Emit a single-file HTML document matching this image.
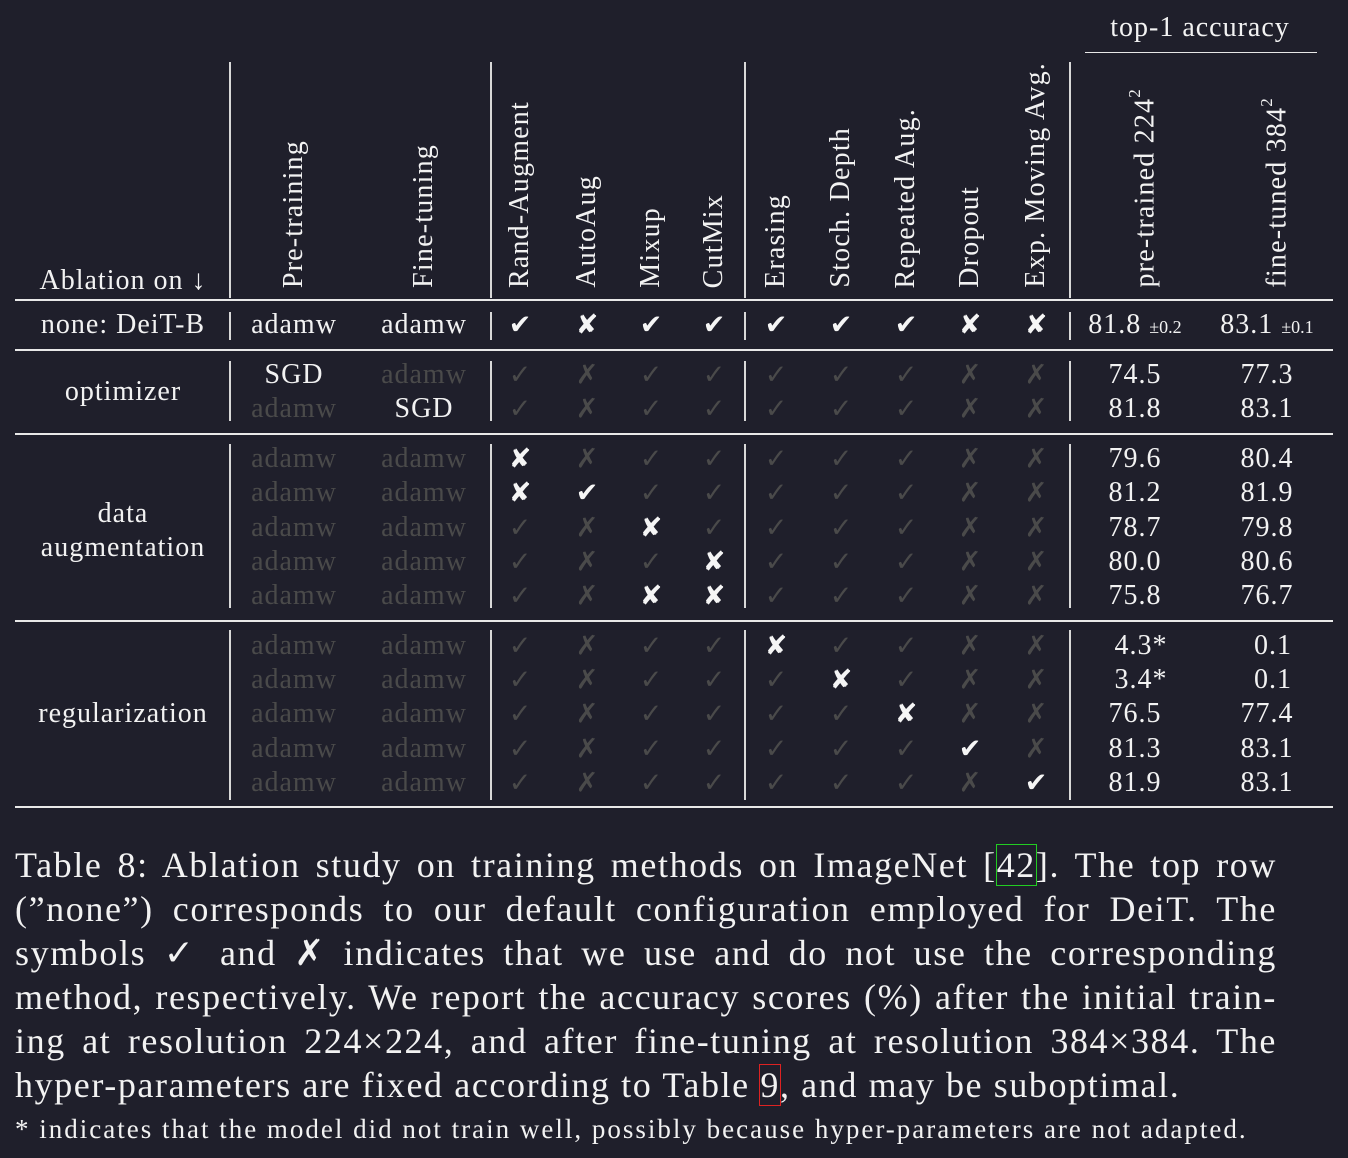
<!DOCTYPE html>
<html><head><meta charset="utf-8"><style>
body{margin:0;background:#1f1f2b;}
#p{position:relative;width:1348px;height:1158px;background:#1f1f2b;overflow:hidden;font-family:"Liberation Serif","DejaVu Serif",serif;color:#f2f2f2;}
.t{position:absolute;transform:translate(-50%,-50%);white-space:nowrap;font-size:28px;line-height:1;letter-spacing:1px;}
.s{position:absolute;transform:translate(-50%,-50%);font-family:"DejaVu Sans",sans-serif;font-size:27px;line-height:1;color:#f5f5f5;}
.g{color:#4a4a4a;}
.h{position:absolute;writing-mode:vertical-rl;transform:rotate(180deg);font-size:28px;line-height:30px;white-space:nowrap;letter-spacing:1.2px;}
.hl{position:absolute;height:2px;background:#e8e8e8;}
.vl{position:absolute;width:2px;background:#d8d8d8;}
.cap{position:absolute;left:15px;width:1262px;font-size:36px;line-height:44px;text-align:justify;text-align-last:justify;white-space:nowrap;letter-spacing:1.6px;}
small{font-size:18px;letter-spacing:0;}
</style></head><body><div id="p">
<div class="t" style="left:1200px;top:28px">top-1 accuracy</div>
<div class="hl" style="left:1085px;top:52px;width:232px;height:1px"></div>
<div class="t" style="left:123px;top:281px">Ablation on ↓</div>
<div class="h" style="left:279px;bottom:870px">Pre-training</div>
<div class="h" style="left:409px;bottom:870px">Fine-tuning</div>
<div class="h" style="left:505px;bottom:870px">Rand-Augment</div>
<div class="h" style="left:572px;bottom:870px">AutoAug</div>
<div class="h" style="left:636px;bottom:870px">Mixup</div>
<div class="h" style="left:699px;bottom:870px">CutMix</div>
<div class="h" style="left:761px;bottom:870px">Erasing</div>
<div class="h" style="left:826px;bottom:870px">Stoch. Depth</div>
<div class="h" style="left:891px;bottom:870px">Repeated Aug.</div>
<div class="h" style="left:955px;bottom:870px">Dropout</div>
<div class="h" style="left:1021px;bottom:870px">Exp. Moving Avg.</div>
<div class="h" style="left:1120px;bottom:870px">pre-trained 224<sup style="font-size:17px">2</sup></div>
<div class="h" style="left:1252px;bottom:870px">fine-tuned 384<sup style="font-size:17px">2</sup></div>

<div class="hl" style="left:15px;top:299px;width:1318px"></div>
<div class="hl" style="left:15px;top:349px;width:1318px"></div>
<div class="hl" style="left:15px;top:433px;width:1318px"></div>
<div class="hl" style="left:15px;top:620px;width:1318px"></div>
<div class="hl" style="left:15px;top:806px;width:1318px"></div>

<div class="vl" style="left:229px;top:62px;height:236px"></div>
<div class="vl" style="left:490px;top:62px;height:236px"></div>
<div class="vl" style="left:744px;top:62px;height:236px"></div>
<div class="vl" style="left:1069px;top:62px;height:236px"></div>
<div class="vl" style="left:229px;top:312px;height:28px"></div>
<div class="vl" style="left:490px;top:312px;height:28px"></div>
<div class="vl" style="left:744px;top:312px;height:28px"></div>
<div class="vl" style="left:1069px;top:312px;height:28px"></div>
<div class="vl" style="left:229px;top:361px;height:60px"></div>
<div class="vl" style="left:490px;top:361px;height:60px"></div>
<div class="vl" style="left:744px;top:361px;height:60px"></div>
<div class="vl" style="left:1069px;top:361px;height:60px"></div>
<div class="vl" style="left:229px;top:444px;height:164px"></div>
<div class="vl" style="left:490px;top:444px;height:164px"></div>
<div class="vl" style="left:744px;top:444px;height:164px"></div>
<div class="vl" style="left:1069px;top:444px;height:164px"></div>
<div class="vl" style="left:229px;top:630px;height:170px"></div>
<div class="vl" style="left:490px;top:630px;height:170px"></div>
<div class="vl" style="left:744px;top:630px;height:170px"></div>
<div class="vl" style="left:1069px;top:630px;height:170px"></div>

<!-- none row -->
<div class="t" style="left:123px;top:325px">none: DeiT-B</div>
<div class="t" style="left:294px;top:325px">adamw</div><div class="t" style="left:424px;top:325px">adamw</div>
<div class="s" style="left:520px;top:325px">✔</div><div class="s" style="left:587px;top:325px">✘</div><div class="s" style="left:651px;top:325px">✔</div><div class="s" style="left:714px;top:325px">✔</div><div class="s" style="left:776px;top:325px">✔</div><div class="s" style="left:841px;top:325px">✔</div><div class="s" style="left:906px;top:325px">✔</div><div class="s" style="left:970px;top:325px">✘</div><div class="s" style="left:1036px;top:325px">✘</div>
<div class="t" style="left:1135px;top:325px">81.8 <small>±0.2</small></div><div class="t" style="left:1267px;top:325px">83.1 <small>±0.1</small></div>

<!-- optimizer -->
<div class="t" style="left:123px;top:392px">optimizer</div>
<div class="t" style="left:294px;top:375px">SGD</div><div class="t g" style="left:424px;top:375px">adamw</div>
<div class="s g" style="left:520px;top:375px">✓</div><div class="s g" style="left:587px;top:375px">✗</div><div class="s g" style="left:651px;top:375px">✓</div><div class="s g" style="left:714px;top:375px">✓</div><div class="s g" style="left:776px;top:375px">✓</div><div class="s g" style="left:841px;top:375px">✓</div><div class="s g" style="left:906px;top:375px">✓</div><div class="s g" style="left:970px;top:375px">✗</div><div class="s g" style="left:1036px;top:375px">✗</div>
<div class="t" style="left:1135px;top:375px">74.5</div><div class="t" style="left:1267px;top:375px">77.3</div>
<div class="t g" style="left:294px;top:409px">adamw</div><div class="t" style="left:424px;top:409px">SGD</div>
<div class="s g" style="left:520px;top:409px">✓</div><div class="s g" style="left:587px;top:409px">✗</div><div class="s g" style="left:651px;top:409px">✓</div><div class="s g" style="left:714px;top:409px">✓</div><div class="s g" style="left:776px;top:409px">✓</div><div class="s g" style="left:841px;top:409px">✓</div><div class="s g" style="left:906px;top:409px">✓</div><div class="s g" style="left:970px;top:409px">✗</div><div class="s g" style="left:1036px;top:409px">✗</div>
<div class="t" style="left:1135px;top:409px">81.8</div><div class="t" style="left:1267px;top:409px">83.1</div>

<!-- data augmentation -->
<div class="t" style="left:123px;top:514px">data</div>
<div class="t" style="left:123px;top:548px">augmentation</div>
<div class="t g" style="left:294px;top:459px">adamw</div><div class="t g" style="left:424px;top:459px">adamw</div>
<div class="s" style="left:520px;top:459px">✘</div><div class="s g" style="left:587px;top:459px">✗</div><div class="s g" style="left:651px;top:459px">✓</div><div class="s g" style="left:714px;top:459px">✓</div><div class="s g" style="left:776px;top:459px">✓</div><div class="s g" style="left:841px;top:459px">✓</div><div class="s g" style="left:906px;top:459px">✓</div><div class="s g" style="left:970px;top:459px">✗</div><div class="s g" style="left:1036px;top:459px">✗</div>
<div class="t" style="left:1135px;top:459px">79.6</div><div class="t" style="left:1267px;top:459px">80.4</div>
<div class="t g" style="left:294px;top:493px">adamw</div><div class="t g" style="left:424px;top:493px">adamw</div>
<div class="s" style="left:520px;top:493px">✘</div><div class="s" style="left:587px;top:493px">✔</div><div class="s g" style="left:651px;top:493px">✓</div><div class="s g" style="left:714px;top:493px">✓</div><div class="s g" style="left:776px;top:493px">✓</div><div class="s g" style="left:841px;top:493px">✓</div><div class="s g" style="left:906px;top:493px">✓</div><div class="s g" style="left:970px;top:493px">✗</div><div class="s g" style="left:1036px;top:493px">✗</div>
<div class="t" style="left:1135px;top:493px">81.2</div><div class="t" style="left:1267px;top:493px">81.9</div>
<div class="t g" style="left:294px;top:528px">adamw</div><div class="t g" style="left:424px;top:528px">adamw</div>
<div class="s g" style="left:520px;top:528px">✓</div><div class="s g" style="left:587px;top:528px">✗</div><div class="s" style="left:651px;top:528px">✘</div><div class="s g" style="left:714px;top:528px">✓</div><div class="s g" style="left:776px;top:528px">✓</div><div class="s g" style="left:841px;top:528px">✓</div><div class="s g" style="left:906px;top:528px">✓</div><div class="s g" style="left:970px;top:528px">✗</div><div class="s g" style="left:1036px;top:528px">✗</div>
<div class="t" style="left:1135px;top:528px">78.7</div><div class="t" style="left:1267px;top:528px">79.8</div>
<div class="t g" style="left:294px;top:562px">adamw</div><div class="t g" style="left:424px;top:562px">adamw</div>
<div class="s g" style="left:520px;top:562px">✓</div><div class="s g" style="left:587px;top:562px">✗</div><div class="s g" style="left:651px;top:562px">✓</div><div class="s" style="left:714px;top:562px">✘</div><div class="s g" style="left:776px;top:562px">✓</div><div class="s g" style="left:841px;top:562px">✓</div><div class="s g" style="left:906px;top:562px">✓</div><div class="s g" style="left:970px;top:562px">✗</div><div class="s g" style="left:1036px;top:562px">✗</div>
<div class="t" style="left:1135px;top:562px">80.0</div><div class="t" style="left:1267px;top:562px">80.6</div>
<div class="t g" style="left:294px;top:596px">adamw</div><div class="t g" style="left:424px;top:596px">adamw</div>
<div class="s g" style="left:520px;top:596px">✓</div><div class="s g" style="left:587px;top:596px">✗</div><div class="s" style="left:651px;top:596px">✘</div><div class="s" style="left:714px;top:596px">✘</div><div class="s g" style="left:776px;top:596px">✓</div><div class="s g" style="left:841px;top:596px">✓</div><div class="s g" style="left:906px;top:596px">✓</div><div class="s g" style="left:970px;top:596px">✗</div><div class="s g" style="left:1036px;top:596px">✗</div>
<div class="t" style="left:1135px;top:596px">75.8</div><div class="t" style="left:1267px;top:596px">76.7</div>

<!-- regularization -->
<div class="t" style="left:123px;top:714px">regularization</div>
<div class="t g" style="left:294px;top:646px">adamw</div><div class="t g" style="left:424px;top:646px">adamw</div>
<div class="s g" style="left:520px;top:646px">✓</div><div class="s g" style="left:587px;top:646px">✗</div><div class="s g" style="left:651px;top:646px">✓</div><div class="s g" style="left:714px;top:646px">✓</div><div class="s" style="left:776px;top:646px">✘</div><div class="s g" style="left:841px;top:646px">✓</div><div class="s g" style="left:906px;top:646px">✓</div><div class="s g" style="left:970px;top:646px">✗</div><div class="s g" style="left:1036px;top:646px">✗</div>
<div class="t" style="left:1141px;top:646px">4.3*</div><div class="t" style="left:1273px;top:646px">0.1</div>
<div class="t g" style="left:294px;top:680px">adamw</div><div class="t g" style="left:424px;top:680px">adamw</div>
<div class="s g" style="left:520px;top:680px">✓</div><div class="s g" style="left:587px;top:680px">✗</div><div class="s g" style="left:651px;top:680px">✓</div><div class="s g" style="left:714px;top:680px">✓</div><div class="s g" style="left:776px;top:680px">✓</div><div class="s" style="left:841px;top:680px">✘</div><div class="s g" style="left:906px;top:680px">✓</div><div class="s g" style="left:970px;top:680px">✗</div><div class="s g" style="left:1036px;top:680px">✗</div>
<div class="t" style="left:1141px;top:680px">3.4*</div><div class="t" style="left:1273px;top:680px">0.1</div>
<div class="t g" style="left:294px;top:714px">adamw</div><div class="t g" style="left:424px;top:714px">adamw</div>
<div class="s g" style="left:520px;top:714px">✓</div><div class="s g" style="left:587px;top:714px">✗</div><div class="s g" style="left:651px;top:714px">✓</div><div class="s g" style="left:714px;top:714px">✓</div><div class="s g" style="left:776px;top:714px">✓</div><div class="s g" style="left:841px;top:714px">✓</div><div class="s" style="left:906px;top:714px">✘</div><div class="s g" style="left:970px;top:714px">✗</div><div class="s g" style="left:1036px;top:714px">✗</div>
<div class="t" style="left:1135px;top:714px">76.5</div><div class="t" style="left:1267px;top:714px">77.4</div>
<div class="t g" style="left:294px;top:749px">adamw</div><div class="t g" style="left:424px;top:749px">adamw</div>
<div class="s g" style="left:520px;top:749px">✓</div><div class="s g" style="left:587px;top:749px">✗</div><div class="s g" style="left:651px;top:749px">✓</div><div class="s g" style="left:714px;top:749px">✓</div><div class="s g" style="left:776px;top:749px">✓</div><div class="s g" style="left:841px;top:749px">✓</div><div class="s g" style="left:906px;top:749px">✓</div><div class="s" style="left:970px;top:749px">✔</div><div class="s g" style="left:1036px;top:749px">✗</div>
<div class="t" style="left:1135px;top:749px">81.3</div><div class="t" style="left:1267px;top:749px">83.1</div>
<div class="t g" style="left:294px;top:783px">adamw</div><div class="t g" style="left:424px;top:783px">adamw</div>
<div class="s g" style="left:520px;top:783px">✓</div><div class="s g" style="left:587px;top:783px">✗</div><div class="s g" style="left:651px;top:783px">✓</div><div class="s g" style="left:714px;top:783px">✓</div><div class="s g" style="left:776px;top:783px">✓</div><div class="s g" style="left:841px;top:783px">✓</div><div class="s g" style="left:906px;top:783px">✓</div><div class="s g" style="left:970px;top:783px">✗</div><div class="s" style="left:1036px;top:783px">✔</div>
<div class="t" style="left:1135px;top:783px">81.9</div><div class="t" style="left:1267px;top:783px">83.1</div>

<!-- caption -->
<div class="cap" style="top:843px">Table 8: Ablation study on training methods on ImageNet [<span style="outline:1px solid #2c2;">42</span>]. The top row</div>
<div class="cap" style="top:887px">(”none”) corresponds to our default configuration employed for DeiT. The</div>
<div class="cap" style="top:931px">symbols ✓ and ✗ indicates that we use and do not use the corresponding</div>
<div class="cap" style="top:975px">method, respectively. We report the accuracy scores (%) after the initial train-</div>
<div class="cap" style="top:1019px">ing at resolution 224×224, and after fine-tuning at resolution 384×384. The</div>
<div class="cap" style="top:1063px;text-align:left;text-align-last:left">hyper-parameters are fixed according to Table <span style="outline:1px solid #d22;">9</span>, and may be suboptimal.</div>
<div style="position:absolute;left:15px;top:1114px;font-size:27px;line-height:30px;white-space:nowrap;letter-spacing:2px">* indicates that the model did not train well, possibly because hyper-parameters are not adapted.</div>
</div></body></html>
